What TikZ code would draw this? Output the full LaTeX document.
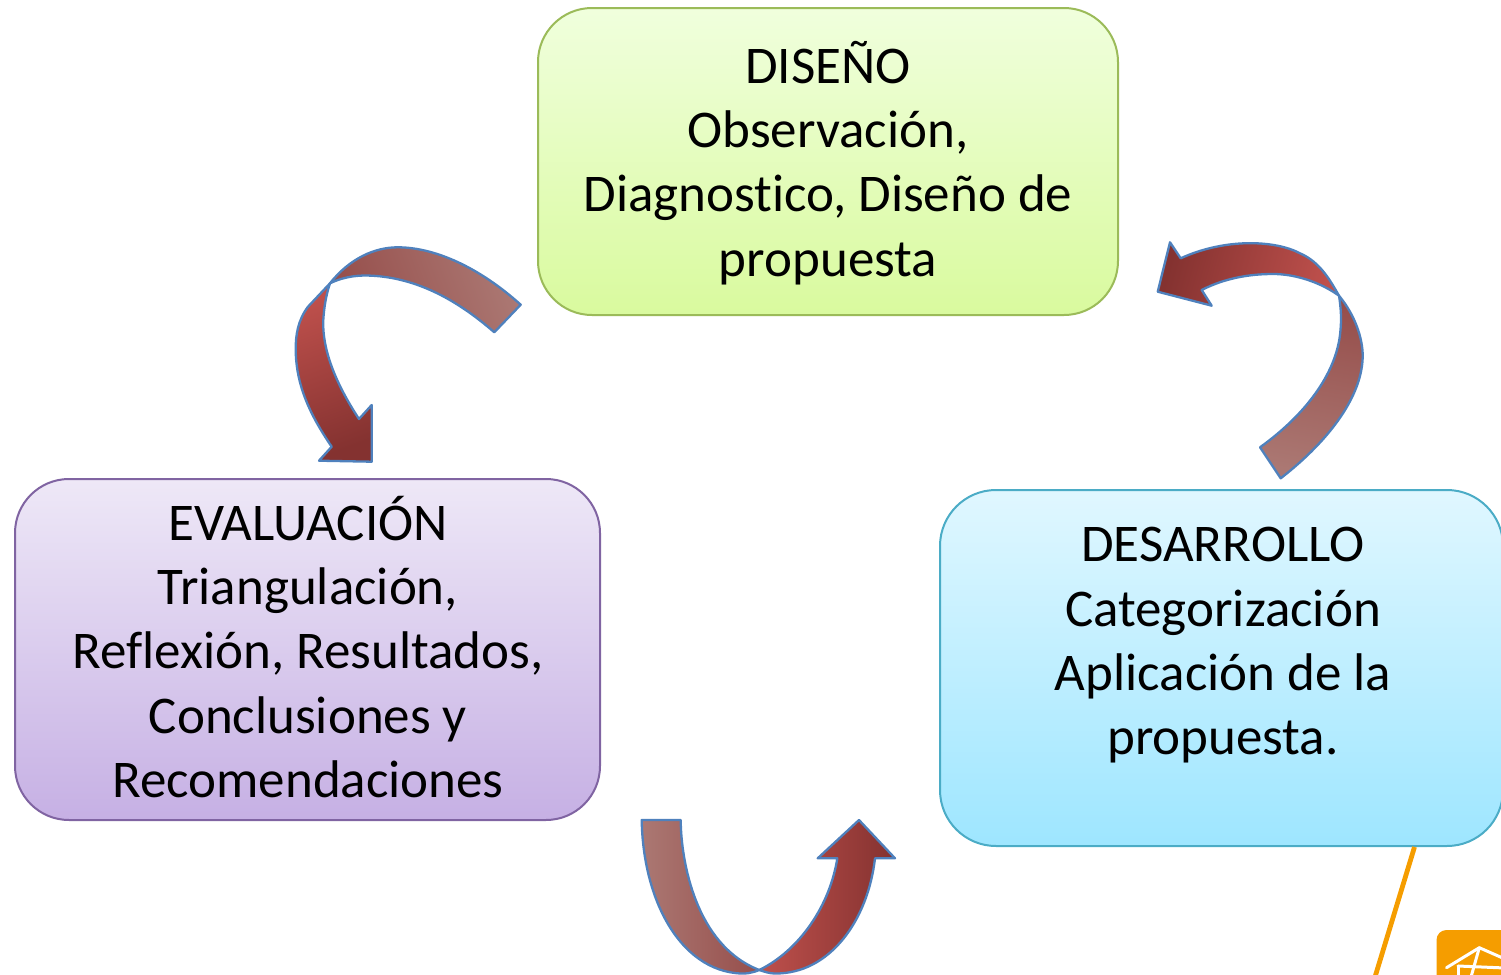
\documentclass[tikz,border=0pt]{standalone}
\usepackage{fontspec}
\setmainfont[Ligatures={NoCommon,NoRare,NoContextual}]{Carlito}
\definecolor{arrowline}{HTML}{4F81BD}
\definecolor{lite}{HTML}{AB7873}
\definecolor{midd}{HTML}{964E4B}
\definecolor{brite}{HTML}{BE504C}
\definecolor{dark}{HTML}{843230}
\definecolor{orng}{HTML}{F59D00}
\definecolor{greenline}{HTML}{9BBB59}
\definecolor{greentop}{HTML}{F0FFDD}
\definecolor{greenbot}{HTML}{D9FA9E}
\definecolor{purpleline}{HTML}{8064A2}
\definecolor{purpletop}{HTML}{EEE8F7}
\definecolor{purplebot}{HTML}{C6B0E4}
\definecolor{blueline}{HTML}{4BACC6}
\definecolor{bluetop}{HTML}{E0F7FF}
\definecolor{bluebot}{HTML}{9EE6FF}
\tikzset{
  box/.style={line width=1pt,rounded corners=27pt},
  label/.style={font=\fontsize{26.5}{32.15}\selectfont,align=center,text=black,inner sep=0pt},
  bandpart/.style={draw=arrowline,line width=1.15pt,line join=round},
  tailpart/.style={bandpart,left color=lite,right color=midd,shading angle=#1},
  headpart/.style={bandpart,left color=brite,right color=dark,shading angle=#1},
  leader/.style={draw=orng,line width=2.4pt},
  iconline/.style={draw=white,line width=1.5pt,line cap=round,line join=round},
}
\begin{document}
\begin{tikzpicture}[x=0.5pt,y=-0.5pt]
\clip (0,0) rectangle (1501,975);
% boxes
\draw[box,draw=greenline,top color=greentop,bottom color=greenbot] (538,8) rectangle (1118,315);
\draw[box,draw=purpleline,top color=purpletop,bottom color=purplebot] (15,479) rectangle (600,820);
\draw[box,rounded corners=28pt,draw=blueline,top color=bluetop,bottom color=bluebot] (940,490) rectangle (1503,846);
% labels
\node[label] (diseno) at (828,163) {DISEÑO\\Observación,\\Diagnostico, Diseño de\\propuesta};
\node[label] (evaluacion) at (308,647) {EVALUACIÓN\\Triangulación,\\Reflexión, Resultados,\\Conclusiones y\\Recomendaciones};
\node[label] (desarrollo) at (1223,645.5) {DESARROLLO\\Categorización\\Aplicación de la\\propuesta.};
% arrow diseno -> evaluacion
\draw[tailpart=290] (520.7,304.7) .. controls (480,268) and (435,247) .. (397,247.3) .. controls (375,247.5) and (350,258) .. (330,283.3) .. controls (345,276) and (360,275) .. (372,275.7) .. controls (415,278) and (455,298) .. (494.3,332.3) -- cycle;
\draw[headpart=20] (330,283.3) -- (308,306.7) .. controls (298,320) and (295.5,335) .. (295.7,350) .. controls (296,385) and (310,415) .. (331.7,446.7) -- (319,460.7) -- (371.7,461.7) -- (371.7,405) -- (359,419) .. controls (338,387) and (322,352) .. (323.3,320) .. controls (324,308) and (326,295) .. (330,283.3) -- cycle;
% arrow desarrollo -> diseno
\draw[tailpart=170] (1280.7,478.3) .. controls (1330,440) and (1363,395) .. (1362.7,355) .. controls (1362.5,338) and (1355,315) .. (1339,295.7) .. controls (1342,315) and (1341,325) .. (1340,335) .. controls (1335,375) and (1305,415) .. (1260,447.3) -- cycle;
\draw[headpart=255] (1339,295.7) .. controls (1330,280) and (1320,262) .. (1300,253.3) .. controls (1275,240) and (1225,238) .. (1180.7,258.3) -- (1170,242.3) -- (1157.7,291.7) -- (1211.7,305.7) -- (1201.7,290) .. controls (1225,278) and (1250,274) .. (1273,274) .. controls (1295,274) and (1320,282) .. (1339,295.7) -- cycle;
% arrow evaluacion -> desarrollo
\draw[tailpart=90] (641.7,820) -- (680.7,820) .. controls (681,860) and (695,945) .. (759.3,970) .. controls (752,973) and (745,974) .. (740,973.5) .. controls (680,970) and (643,900) .. (641.7,820) -- cycle;
\draw[headpart=90] (759.3,970) .. controls (800,950) and (830,905) .. (837.3,858.3) -- (817.7,858.3) -- (859,820) -- (895,858.3) -- (875,858.3) .. controls (868,920) and (830,974) .. (775,973.5) .. controls (770,973.5) and (765,972) .. (759.3,970) -- cycle;
% leader and icon
\coordinate (leaderfoot) at (1375,977);
\coordinate (leadertop) at (1414.5,847);
\path[leader] (leadertop) -- (leaderfoot);
\fill[orng,rounded corners=5pt] (1436.5,930) rectangle (1520,990);
\coordinate (apex) at (1479.3,947.7);
\draw[iconline] (1446.5,967.7) -- (apex) -- (1505,959);
\draw[iconline] (apex) -- (1471,977);
\draw[iconline] (1458,966) -- (1458,980);
\draw[iconline] (1458,966) -- (1505,968);
\draw[iconline] (1462,980) arc (180:0:2.5);
\draw[iconline] (1481,980) arc (180:0:6);
\end{tikzpicture}
\end{document}
